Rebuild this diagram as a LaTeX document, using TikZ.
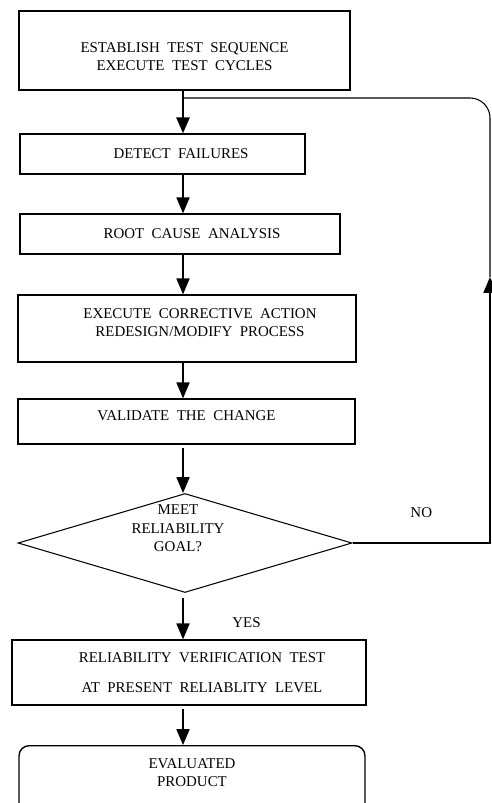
\documentclass[tikz,border=0pt]{standalone}
\usepackage{fontspec}
\setmainfont{Liberation Serif}
\usetikzlibrary{shapes.geometric,arrows.meta}

\newcommand{\flowfont}{\fontsize{8.5}{10.4}\selectfont\spaceskip=0.5em\relax}
\tikzset{
    box/.style={draw, rectangle, line width=0.8pt, align=center, inner sep=0pt},
    decision/.style={draw, diamond, line width=0.6pt, inner sep=0pt},
    flow/.style={line width=0.6pt, -{Triangle[width=7.5pt,length=9pt]}},
    every node/.style={font=\flowfont},
}

\begin{document}
\begin{tikzpicture}[x=0.02cm, y=-0.02cm]
    \useasboundingbox (0,0) rectangle (492,803);
    \clip (0,0) rectangle (492,803);
    % Boxes
    \node[box, minimum width=6.62cm, minimum height=1.58cm] (establish) at (184.5,50.5)
        {\rule{0pt}{0.43cm}ESTABLISH TEST SEQUENCE\\EXECUTE TEST CYCLES};
    \node[box, minimum width=5.7cm, minimum height=0.8cm] (detect) at (162.5,154) {\hspace*{0.74cm}DETECT FAILURES};
    \node[box, minimum width=6.4cm, minimum height=0.8cm] (rootcause) at (180,234) {\hspace*{0.48cm}ROOT CAUSE ANALYSIS};
    \node[box, minimum width=6.76cm, minimum height=1.34cm] (corrective) at (187,328.5)
        {\hspace*{0.52cm}EXECUTE CORRECTIVE ACTION\\\hspace*{0.52cm}REDESIGN/MODIFY PROCESS\rule[-0.24cm]{0pt}{0pt}};
    \node[box, minimum width=6.74cm, minimum height=0.9cm] (validate) at (186.5,421.5)
        {VALIDATE THE CHANGE\rule[-0.22cm]{0pt}{0pt}};
    \node[decision, minimum width=6.68cm, minimum height=1.98cm] (goal) at (185,543)
        {\raisebox{0.2cm}[0pt][0pt]{\hspace*{-0.28cm}\begin{tabular}{@{}c@{}}MEET\\RELIABILITY\\GOAL?\end{tabular}}};
    \node[box, minimum width=7.08cm, minimum height=1.3cm] (verify) at (189,672.5)
        {\hspace*{0.52cm}RELIABILITY VERIFICATION TEST\\[7pt]\hspace*{0.52cm}AT PRESENT RELIABLITY LEVEL};
    \node[box, rounded corners=0.2cm, anchor=north, minimum width=6.92cm] (product) at (192,745)
        {\rule{0pt}{0.45cm}EVALUATED\\PRODUCT\rule[-1.5cm]{0pt}{0pt}};
    % Connectors
    \coordinate (spine) at (183,0);
    \coordinate (noturn) at (490,543);
    \coordinate (noup) at (490,277);
    \coordinate (loopjoin) at (183,98);
    \draw[flow, line width=1.1pt] (establish.south -| spine) -- (detect.north -| spine);
    \draw[flow] (detect.south -| spine) -- (rootcause.north -| spine);
    \draw[flow] (rootcause.south -| spine) -- (corrective.north -| spine);
    \draw[flow] (corrective.south -| spine) -- (validate.north -| spine);
    \draw[flow] ([yshift=-0.06cm]validate.south -| spine) -- (goal.north -| spine);
    \draw[flow] ([yshift=-0.1cm]goal.south -| spine) -- node[pos=0.6, right=0.86cm] {YES} (verify.north -| spine);
    \draw[flow] ([yshift=-0.06cm]verify.south -| spine) -- (product.north -| spine);
    % Loop back
    \draw[flow] (goal.east) -- node[above=0.38cm] {NO} (noturn) -- (noup);
    \draw[line width=0.6pt, rounded corners=0.4cm] (noup) |- (loopjoin);
\end{tikzpicture}
\end{document}
